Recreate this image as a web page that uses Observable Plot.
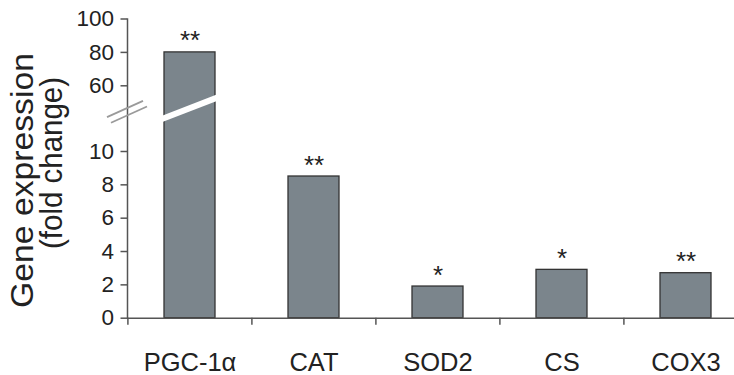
<!DOCTYPE html>
<html>
<head>
<meta charset="utf-8">
<script src="https://cdn.jsdelivr.net/npm/d3@7"></script>
<script src="https://cdn.jsdelivr.net/npm/@observablehq/plot@0.6"></script>
<style>
  html, body { margin: 0; padding: 0; background: #fff; }
  #chart svg { display: block; }
</style>
</head>
<body>
<div id="chart"></div>
<script>
// ---- data ----
const categories = ["PGC-1α", "CAT", "SOD2", "CS", "COX3"];
const values = [80, 8.5, 1.9, 2.9, 2.7];
const stars = ["**", "**", "*", "*", "**"];
const yTicks = [0, 2, 4, 6, 8, 10, 60, 80, 100];
const yBreakDomain = [0, 10, 50, 100];   // piecewise (broken) y scale
const breakValue = 42;                     // where the axis break is drawn

const data = categories.map((c, i) => ({cat: c, value: values[i], star: stars[i]}));

// ---- layout ----
const W = 734, H = 375;
const left = 127, right = 748;
const yRange = [317.7, 151, 102, 18.5];
const step = (right - left) / categories.length;
const ink = "#222";
const axisColor = "#555";

const chart = Plot.plot({
  width: W,
  height: H,
  marginLeft: left,
  marginRight: 0,
  marginTop: 18.5,
  marginBottom: H - 317.7,
  style: {fontFamily: "Liberation Sans, Arial, sans-serif", color: ink, background: "#fff", overflow: "visible"},
  x: {domain: categories, range: [left, right], paddingInner: 0.59, paddingOuter: 0.295, label: null},
  y: {type: "linear", domain: yBreakDomain, range: yRange, label: null},
  marks: [
    Plot.barY(data, {x: "cat", y: "value", fill: "#7b858c", stroke: "#333", strokeWidth: 1.3}),
    Plot.text(data, {x: "cat", y: "value", text: "star", fontSize: 26, lineAnchor: "bottom", dy: -3, fill: ink}),
    Plot.frame({anchor: "left", stroke: axisColor, strokeWidth: 1.5}),
    Plot.ruleY([0], {stroke: axisColor, strokeWidth: 1.5}),
    Plot.axisY({ticks: yTicks, tickSize: 6.5, tickPadding: 7, fontSize: 22.5, stroke: axisColor, strokeWidth: 1.5, tickFormat: d => String(d), fill: ink}),
    Plot.axisX({tickSize: 7, tickFormat: () => "", dx: -step / 2, stroke: axisColor, strokeWidth: 1.5}),
    Plot.axisX({tickSize: 0, tickPadding: 35, fontSize: 25.5, fill: ink})
  ]
});

document.getElementById("chart").appendChild(chart);

// ---- decorations derived from the scales: axis break, bar slash, y label ----
const sx = chart.scale("x"), sy = chart.scale("y");
const svg = d3.select(chart);
const by = sy.apply(breakValue);

// slash across the broken bar
const slope = -0.386;
const bx = sx.apply(categories[0]) + sx.bandwidth / 2;
const sHalf = 36;
svg.append("line")
  .attr("x1", bx - sHalf).attr("y1", by - 3.5 - slope * sHalf)
  .attr("x2", bx + sHalf).attr("y2", by - 3.5 + slope * sHalf)
  .attr("stroke", "#fff").attr("stroke-width", 6);

// axis break marks (two light parallel strokes crossing the axis)
const aSlope = -0.45;
const ax = left;
const aHalf = 18;
for (const [ox, oy] of [[-2, -2.8], [2, 2.8]]) {
  svg.append("line")
    .attr("x1", ax + ox - aHalf).attr("y1", by + oy - aSlope * aHalf)
    .attr("x2", ax + ox + aHalf).attr("y2", by + oy + aSlope * aHalf)
    .attr("stroke", "#9a9a9a").attr("stroke-width", 1.8);
}

// y-axis title (two lines)
const labels = [
  {text: "Gene expression", x: 33, y: 180.5, len: 255},
  {text: "(fold change)", x: 62, y: 163, len: 172}
];
for (const l of labels) {
  svg.append("text")
    .attr("transform", `translate(${l.x},${l.y}) rotate(-90)`)
    .attr("text-anchor", "middle")
    .attr("font-size", 30.5)
    .attr("fill", ink)
    .attr("textLength", l.len)
    .attr("lengthAdjust", "spacingAndGlyphs")
    .text(l.text);
}
</script>
</body>
</html>
